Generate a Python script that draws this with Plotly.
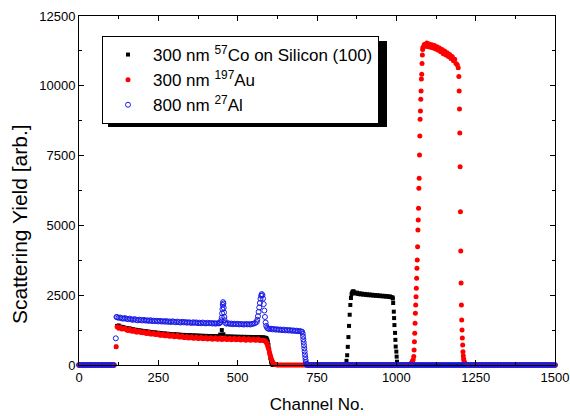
import plotly.graph_objects as go

# ---------------- data ----------------
# 800 nm 27Al  (blue open circles)
al_ch_zero_lo = list(range(0, 115, 5))
al_zero_lo = [0, 0, 0, 0, 0, 0, 0, 0, 0, 0,
              0, 0, 0, 0, 0, 0, 0, 0, 0, 0,
              0, 0, 0]
al_ch_edge = [116, 118]
al_edge = [955, 1720]
al_ch_plat1 = list(range(120, 445, 5))
al_plat1 = [1710, 1690, 1700, 1670, 1660, 1680, 1650, 1640, 1660, 1630,
            1620, 1645, 1615, 1600, 1625, 1610, 1595, 1615, 1590, 1600,
            1580, 1605, 1575, 1590, 1570, 1585, 1560, 1580, 1555, 1570,
            1550, 1575, 1545, 1560, 1540, 1565, 1545, 1530, 1555, 1535,
            1520, 1545, 1525, 1540, 1515, 1530, 1520, 1505, 1530, 1510,
            1525, 1500, 1515, 1495, 1520, 1500, 1490, 1510, 1495, 1505,
            1485, 1500, 1480, 1495, 1490]
al_ch_spike = [443, 446, 448, 450, 451, 452, 453, 454, 455, 456, 457, 458, 459, 461]
al_spike = [1500, 1530, 1600, 1700, 1850, 2000, 2150, 2250, 2200, 2050, 1880, 1720, 1600, 1510]
al_ch_plat2 = list(range(465, 560, 5))
al_plat2 = [1480, 1495, 1470, 1485, 1460, 1480, 1465, 1475, 1455, 1470,
            1460, 1450, 1470, 1455, 1465, 1450, 1470, 1480, 1500]
al_ch_peak = [560, 562, 564, 566, 568, 570, 572, 574, 576, 578, 580, 582, 584, 586, 588, 590, 593, 596]
al_peak = [1540, 1620, 1750, 1900, 2060, 2220, 2370, 2480, 2540, 2500, 2380, 2180, 1950, 1720, 1520, 1400, 1330, 1300]
al_ch_plat3 = list(range(600, 705, 5))
al_plat3 = [1290, 1300, 1275, 1290, 1265, 1280, 1260, 1270, 1250, 1265,
            1240, 1255, 1235, 1250, 1225, 1240, 1220, 1230, 1210, 1220, 1200]
al_ch_drop = [703, 705, 706, 707, 708, 709, 710, 711, 712, 713, 714, 715, 716, 717]
al_drop = [1190, 1120, 1020, 920, 820, 710, 600, 490, 380, 280, 180, 100, 40, 10]
al_ch_zero_hi = list(range(720, 1501, 5))
al_zero_hi = [0, 0, 0, 0, 0, 0, 0, 0, 0, 0,
              0, 0, 0, 0, 0, 0, 0, 0, 0, 0,
              0, 0, 0, 0, 0, 0, 0, 0, 0, 0,
              0, 0, 0, 0, 0, 0, 0, 0, 0, 0,
              0, 0, 0, 0, 0, 0, 0, 0, 0, 0,
              0, 0, 0, 0, 0, 0, 0, 0, 0, 0,
              0, 0, 0, 0, 0, 0, 0, 0, 0, 0,
              0, 0, 0, 0, 0, 0, 0, 0, 0, 0,
              0, 0, 0, 0, 0, 0, 0, 0, 0, 0,
              0, 0, 0, 0, 0, 0, 0, 0, 0, 0,
              0, 0, 0, 0, 0, 0, 0, 0, 0, 0,
              0, 0, 0, 0, 0, 0, 0, 0, 0, 0,
              0, 0, 0, 0, 0, 0, 0, 0, 0, 0,
              0, 0, 0, 0, 0, 0, 0, 0, 0, 0,
              0, 0, 0, 0, 0, 0, 0, 0, 0, 0,
              0, 0, 0, 0, 0, 0, 0]

# 300 nm 197Au  (red dots)
au_ch_zero_lo = list(range(0, 115, 10))
au_zero_lo = [0, 0, 0, 0, 0, 0, 0, 0, 0, 0, 0, 0]
au_ch_edge = [117]
au_edge = [655]
au_ch_plat = list(range(120, 585, 5))
au_plat = [1370, 1320, 1355, 1290, 1300, 1320, 1250, 1240, 1285, 1215,
           1205, 1250, 1185, 1180, 1220, 1160, 1155, 1195, 1135, 1130,
           1170, 1110, 1110, 1150, 1090, 1090, 1130, 1070, 1070, 1110,
           1050, 1050, 1090, 1030, 1040, 1075, 1015, 1025, 1065, 1005,
           1000, 1040, 985, 985, 1025, 970, 980, 1015, 955, 970,
           1005, 945, 955, 995, 940, 950, 985, 930, 945, 980,
           925, 940, 975, 920, 935, 970, 915, 930, 965, 910,
           925, 960, 905, 920, 955, 900, 915, 950, 895, 910,
           945, 890, 905, 940, 885, 900, 935, 885, 895, 930,
           880, 890, 885]
au_ch_drop1 = [583, 586, 588, 590, 592, 594, 596, 598, 600, 602, 604, 606, 608, 610, 612, 615, 618, 622]
au_drop1 = [880, 865, 845, 815, 770, 710, 640, 560, 470, 380, 300, 220, 160, 110, 70, 40, 20, 5]
au_ch_zero_mid = list(range(625, 1040, 5))
au_zero_mid = [0, 0, 0, 0, 0, 0, 0, 0, 0, 0,
               0, 0, 0, 0, 0, 0, 0, 0, 0, 0,
               0, 0, 0, 0, 0, 0, 0, 0, 0, 0,
               0, 0, 0, 0, 0, 0, 0, 0, 0, 0,
               0, 0, 0, 0, 0, 0, 0, 0, 0, 0,
               0, 0, 0, 0, 0, 0, 0, 0, 0, 0,
               0, 0, 0, 0, 0, 0, 0, 0, 0, 0,
               0, 0, 0, 0, 0, 0, 0, 0, 0, 0,
               0, 0, 0]
au_ch_rise = [1040, 1043, 1046, 1049, 1051, 1053, 1055, 1056, 1057, 1058,
              1059, 1060, 1061, 1062, 1063, 1064, 1065, 1066, 1067, 1068,
              1069, 1070, 1071, 1072, 1073, 1074, 1075, 1076, 1077, 1078,
              1079, 1080, 1081, 1082, 1083]
au_rise = [10, 25, 50, 90, 140, 190, 300, 537, 835, 1134,
           1492, 1850, 2149, 2447, 2746, 3104, 3462, 3760, 4238, 4835,
           5194, 5612, 6329, 6687, 7522, 8203, 8800, 9098, 9516, 9815,
           10245, 10412, 10800, 11100, 11300]
au_ch_top = list(range(1084, 1196, 4))
au_top = [11380, 11480, 11420, 11530, 11400, 11500, 11380, 11470, 11350, 11440,
          11320, 11400, 11270, 11350, 11220, 11300, 11150, 11250, 11100, 11180,
          11050, 11120, 10980, 11050, 10900, 10950, 10800, 10750]
au_ch_drop2 = [1195, 1197, 1198, 1199, 1200, 1201, 1202, 1203, 1204, 1205, 1206,
               1207, 1208, 1209, 1210, 1211, 1212, 1213, 1215, 1217, 1220, 1223]
au_drop2 = [10650, 10330, 9815, 9170, 8310, 7100, 5490, 4083, 2937, 2149, 1612,
            1254, 967, 716, 477, 330, 220, 150, 90, 50, 25, 10]
au_ch_zero_hi = list(range(1230, 1501, 10))
au_zero_hi = [0, 0, 0, 0, 0, 0, 0, 0, 0, 0,
              0, 0, 0, 0, 0, 0, 0, 0, 0, 0,
              0, 0, 0, 0, 0, 0, 0, 0]

# 300 nm 57Co on Silicon (100)  (black squares)
co_ch_zero_lo = list(range(0, 115, 10))
co_zero_lo = [0, 0, 0, 0, 0, 0, 0, 0, 0, 0, 0, 0]
co_ch_edge = [117]
co_edge = [655]
co_ch_plat1 = list(range(120, 590, 5))
co_plat1 = [1400, 1415, 1375, 1365, 1355, 1330, 1325, 1305, 1310, 1280,
            1280, 1260, 1260, 1240, 1245, 1225, 1225, 1210, 1210, 1195,
            1195, 1175, 1180, 1165, 1165, 1150, 1155, 1140, 1140, 1125,
            1130, 1115, 1120, 1105, 1110, 1095, 1100, 1090, 1095, 1080,
            1085, 1070, 1078, 1065, 1072, 1060, 1068, 1055, 1060, 1050,
            1058, 1045, 1052, 1040, 1048, 1035, 1043, 1032, 1040, 1028,
            1036, 1025, 1033, 1022, 1030, 1090, 1250, 1100, 1022, 1015,
            1023, 1012, 1020, 1008, 1017, 1006, 1014, 1003, 1012, 1000,
            1010, 998, 1007, 996, 1005, 994, 1003, 992, 1000, 990,
            998, 988, 992, 982]
co_ch_drop1 = [589, 591, 593, 595, 597, 599, 601, 603, 605, 607, 609]
co_drop1 = [970, 950, 910, 840, 720, 570, 400, 240, 120, 50, 15]
co_ch_zero_mid = list(range(612, 840, 5))
co_zero_mid = [0, 0, 0, 0, 0, 0, 0, 0, 0, 0,
               0, 0, 0, 0, 0, 0, 0, 0, 0, 0,
               0, 0, 0, 0, 0, 0, 0, 0, 0, 0,
               0, 0, 0, 0, 0, 0, 0, 0, 0, 0,
               0, 0, 0, 0, 0, 0]
co_ch_rise = [840, 843, 845, 847, 849, 851, 853, 855, 857, 859, 861, 863, 865]
co_rise = [40, 150, 350, 650, 1000, 1400, 1800, 2150, 2400, 2540, 2600, 2630, 2640]
co_ch_plat2 = list(range(868, 990, 4))
co_plat2 = [2600, 2560, 2590, 2540, 2570, 2530, 2555, 2520, 2545, 2510,
            2535, 2500, 2525, 2495, 2515, 2485, 2505, 2480, 2500, 2470,
            2490, 2465, 2480, 2455, 2475, 2450, 2465, 2440, 2455, 2430, 2420]
co_ch_drop2 = [989, 990, 992, 993, 994, 996, 997, 998, 1000, 1001, 1002, 1004]
co_drop2 = [2380, 2220, 1910, 1680, 1430, 1150, 900, 660, 480, 300, 120, 30]
co_ch_zero_hi = list(range(1006, 1501, 10))
co_zero_hi = [0, 0, 0, 0, 0, 0, 0, 0, 0, 0,
              0, 0, 0, 0, 0, 0, 0, 0, 0, 0,
              0, 0, 0, 0, 0, 0, 0, 0, 0, 0,
              0, 0, 0, 0, 0, 0, 0, 0, 0, 0,
              0, 0, 0, 0, 0, 0, 0, 0, 0, 0]

series_names = ["300 nm <sup>57</sup>Co on Silicon (100)",
                "300 nm <sup>197</sup>Au",
                "800 nm <sup>27</sup>Al"]
x_ticks = [0, 250, 500, 750, 1000, 1250, 1500]
x_tick_text = ["0", "250", "500", "750", "1000", "1250", "1500"]
y_ticks = [0, 2500, 5000, 7500, 10000, 12500]
y_tick_text = ["0", "2500", "5000", "7500", "10000", "12500"]


def join(pairs):
    xs, ys = [], []
    for c, v in pairs:
        assert len(c) == len(v), (len(c), len(v), c[:3])
        xs += list(c)
        ys += list(v)
    return xs, ys


co_x, co_y = join([(co_ch_zero_lo, co_zero_lo), (co_ch_edge, co_edge), (co_ch_plat1, co_plat1),
                   (co_ch_drop1, co_drop1), (co_ch_zero_mid, co_zero_mid), (co_ch_rise, co_rise),
                   (co_ch_plat2, co_plat2), (co_ch_drop2, co_drop2), (co_ch_zero_hi, co_zero_hi)])
au_x, au_y = join([(au_ch_zero_lo, au_zero_lo), (au_ch_edge, au_edge), (au_ch_plat, au_plat),
                   (au_ch_drop1, au_drop1), (au_ch_zero_mid, au_zero_mid), (au_ch_rise, au_rise),
                   (au_ch_top, au_top), (au_ch_drop2, au_drop2), (au_ch_zero_hi, au_zero_hi)])
al_x, al_y = join([(al_ch_zero_lo, al_zero_lo), (al_ch_edge, al_edge), (al_ch_plat1, al_plat1),
                   (al_ch_spike, al_spike), (al_ch_plat2, al_plat2), (al_ch_peak, al_peak),
                   (al_ch_plat3, al_plat3), (al_ch_drop, al_drop), (al_ch_zero_hi, al_zero_hi)])

FONT = "Liberation Sans, Arial, sans-serif"

fig = go.Figure()
fig.add_trace(go.Scatter(x=co_x, y=co_y, mode="markers", name=series_names[0], cliponaxis=False,
                         marker=dict(symbol="square", size=4, color="#000000", line=dict(width=0))))
fig.add_trace(go.Scatter(x=au_x, y=au_y, mode="markers", name=series_names[1], cliponaxis=False,
                         marker=dict(symbol="circle", size=5, color="#ff0000", line=dict(width=0))))
fig.add_trace(go.Scatter(x=al_x, y=al_y, mode="markers", name=series_names[2], cliponaxis=False,
                         marker=dict(symbol="circle-open", size=5, color="#1a1ae6", line=dict(width=1))))

axis_common = dict(showgrid=False, zeroline=False, showline=True, linecolor="black", linewidth=1,
                   mirror="ticks", ticks="inside", ticklen=5, tickwidth=1, tickcolor="black",
                   tickfont=dict(family=FONT, size=13, color="black"))

fig.update_xaxes(range=[0, 1500], tickvals=x_ticks, ticktext=x_tick_text,
                 minor=dict(ticks="inside", ticklen=3, dtick=125, tick0=0, tickcolor="black"),
                 title=dict(text="Channel No.", font=dict(family=FONT, size=17, color="black"), standoff=14),
                 **axis_common)
fig.update_yaxes(range=[0, 12500], tickvals=y_ticks, ticktext=y_tick_text,
                 minor=dict(ticks="inside", ticklen=3, dtick=1250, tick0=0, tickcolor="black"),
                 **axis_common)

# y-axis title placed as in the reference (slightly below the axis centre)
fig.add_annotation(text="Scattering Yield [arb.]", xref="paper", yref="paper",
                   x=(20 - 79) / 476, y=(365 - 224) / 349, xanchor="center", yanchor="middle",
                   textangle=-90, showarrow=False,
                   font=dict(family=FONT, size=21, color="black"))

# legend drop shadow (offset ~5 px right/down from the legend box)
fig.add_shape(type="rect", xref="paper", yref="paper",
              x0=(108 - 79) / 476, x1=(387 - 79) / 476,
              y0=(365 - 127) / 349, y1=(365 - 41) / 349,
              fillcolor="black", line=dict(width=0), layer="above")

fig.update_layout(
    width=570, height=416,
    margin=dict(l=79, r=15, t=16, b=51, autoexpand=False),
    paper_bgcolor="white", plot_bgcolor="white",
    font=dict(family=FONT, color="black"),
    legend=dict(x=(102 - 79) / 476, y=(365 - 36) / 349, xanchor="left", yanchor="top",
                bgcolor="white", bordercolor="black", borderwidth=1,
                font=dict(family=FONT, size=17, color="black"),
                itemwidth=40, tracegroupgap=0),
    showlegend=True,
)

fig.write_html("out.html")
